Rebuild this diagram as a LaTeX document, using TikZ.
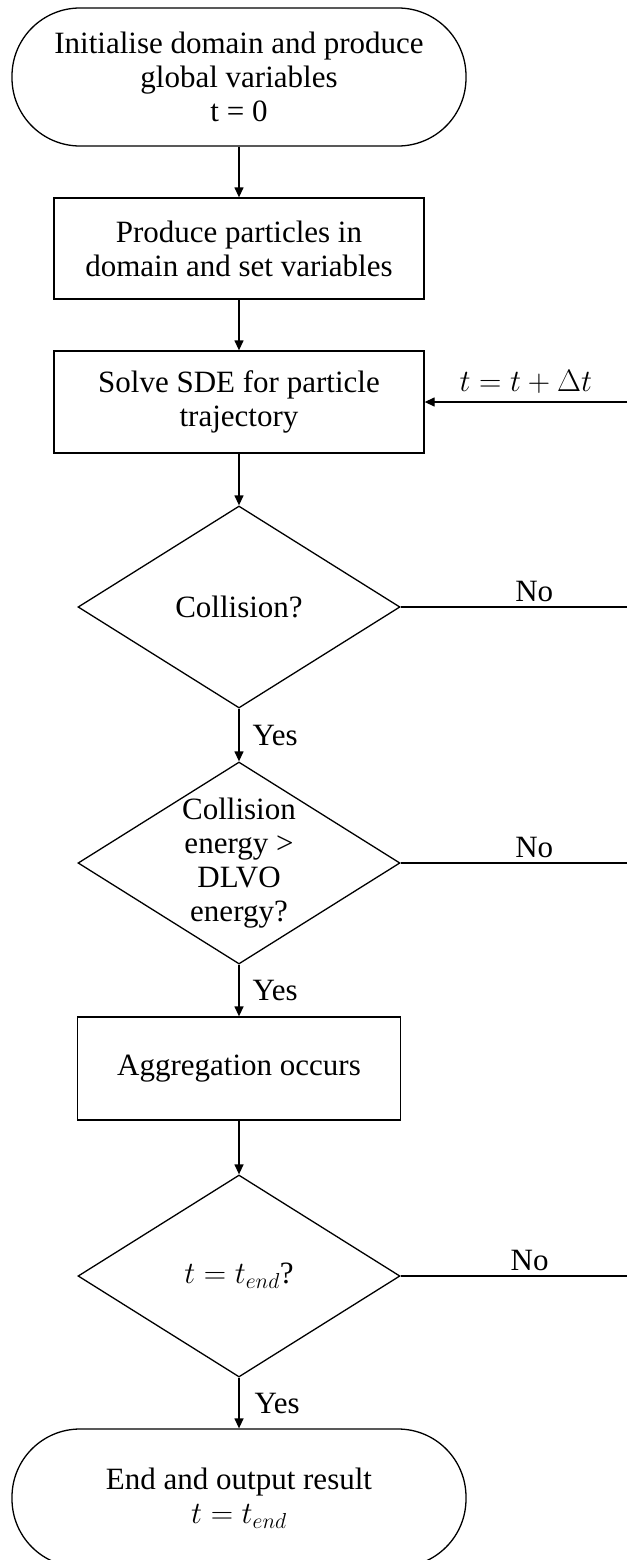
\RequirePackage{fix-cm}
\documentclass[tikz,border=0pt]{standalone}
\usepackage{fontspec}
\setmainfont{Liberation Serif}
\usetikzlibrary{shapes.geometric,arrows.meta}

\tikzset{
  every node/.style={font=\fontsize{31}{34}\selectfont},
  flow/.style={line width=1.3pt, -{Triangle[length=10pt,width=9pt]}},
  plain/.style={line width=1.1pt},
  terminal/.style={draw, line width=1.3pt, rectangle, rounded corners=68pt,
    minimum width=454pt, minimum height=138pt, align=center, inner sep=0pt},
  process/.style={draw, line width=1.3pt, rectangle, minimum width=370pt,
    minimum height=101pt, align=center, inner sep=0pt},
  decision/.style={draw, line width=1.3pt, diamond, minimum width=322pt,
    minimum height=202pt, inner sep=0pt},
  lbl/.style={inner sep=0pt},
}

\begin{document}
\begin{tikzpicture}[x=1pt,y=-1pt]
  \useasboundingbox (0,0) rectangle (627,1560);
  \fill[white] (0,0) rectangle (627,1560);
  \clip (0,0) rectangle (627,1560);

  % flow chart nodes
  \node[terminal] (t1) at (239,77) {Initialise domain and produce\\global variables\\t = 0};
  \node[process] (b2) at (239,248.5) {Produce particles in\\domain and set variables};
  \node[process, minimum height=102pt] (b3) at (239,402) {Solve SDE for particle\\trajectory};
  \node[decision, label={[align=center]center:Collision?}] (d1) at (239,607) {};
  \node[decision, label={[align=center]center:Collision\\energy >\\DLVO\\energy?}] (d2) at (239,863) {};
  \node[process, minimum width=323pt, minimum height=103pt] (b4) at (239,1068.5) {Aggregation occurs};
  \node[decision, label={[align=center]center:{$t = t_{end}$?}}] (d3) at (239,1276) {};
  \node[terminal] (t2) at (239,1498) {End and output result\\$t = t_{end}$};

  % loop-back ends at the right margin
  \coordinate (rin) at (627,402);
  \coordinate (r1) at (627,607);
  \coordinate (r2) at (627,863);
  \coordinate (r3) at (627,1276);

  % main sequence
  \draw[flow] (t1.south) -- (b2.north);
  \draw[flow] (b2.south) -- (b3.north);
  \draw[flow] (b3.south) -- (d1.north);
  \draw[flow] (d1.south) -- node[lbl, right=13pt] {Yes} (d2.north);
  \draw[flow] (d2.south) -- node[lbl, right=13pt] {Yes} (b4.north);
  \draw[flow] (b4.south) -- (d3.north);
  \draw[flow] (d3.south) -- node[lbl, right=15pt] {Yes} (t2.north);

  % "No" branches and the time step return
  \draw[plain] (d1.east) -- node[lbl, pos=0.59, above=5pt] {No} (r1);
  \draw[plain] (d2.east) -- node[lbl, pos=0.59, above=5pt] {No} (r2);
  \draw[plain] (d3.east) -- node[lbl, pos=0.57, above=5pt] {No} (r3);
  \draw[flow] (rin) -- node[lbl, above=8pt] {$t = t + \Delta t$} (b3.east);
\end{tikzpicture}
\end{document}
